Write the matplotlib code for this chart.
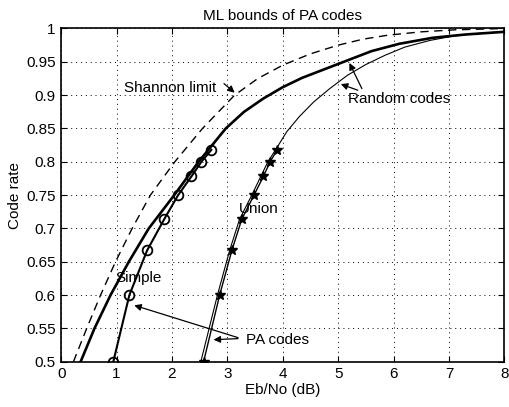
import matplotlib
matplotlib.use("Agg")
import matplotlib.pyplot as plt

# -------------------------------
# Données
# -------------------------------
# limite de Shannon (tirets)
shannon_r = [0.5, 0.55, 0.6, 0.65, 0.7, 0.75, 0.8, 0.85, 0.9, 0.925, 0.945, 0.962, 0.975,
             0.984, 0.99, 0.995, 0.998, 1.0]
shannon_eb = [0.22, 0.46, 0.71, 0.98, 1.28, 1.61, 2.05, 2.55, 3.13, 3.55, 4.0, 4.5, 5.0,
              5.45, 5.9, 6.5, 7.1, 8.0]

# codes aléatoires, borne ML (trait épais)
rand_ml_r = [0.5, 0.55, 0.6, 0.65, 0.7, 0.75, 0.8, 0.85, 0.875, 0.895, 0.912, 0.926, 0.95,
             0.966, 0.977, 0.986, 0.991, 0.995]
rand_ml_eb = [0.35, 0.6, 0.89, 1.22, 1.58, 2.04, 2.48, 2.97, 3.3, 3.65, 4.0, 4.35, 5.1,
              5.6, 6.1, 6.7, 7.3, 8.0]

# codes aléatoires, borne union (trait fin)
rand_un_r = [0.5, 0.55, 0.6, 0.667, 0.714, 0.75, 0.8, 0.818, 0.845, 0.868, 0.89, 0.91,
             0.93, 0.946, 0.96, 0.972, 0.982, 0.989, 0.993, 0.995]
rand_un_eb = [2.52, 2.67, 2.82, 3.04, 3.22, 3.44, 3.73, 3.87, 4.07, 4.3, 4.56, 4.85,
              5.17, 5.5, 5.85, 6.2, 6.65, 7.1, 7.6, 8.0]

# codes PA : taux des points
pa_rates = [0.5, 0.6, 0.667, 0.714, 0.75, 0.778, 0.8, 0.818]
pa_simple = [0.94, 1.23, 1.55, 1.86, 2.11, 2.35, 2.53, 2.71]
pa_union = [2.57, 2.86, 3.08, 3.26, 3.48, 3.65, 3.77, 3.9]

# -------------------------------
# Figure
# -------------------------------
plt.rcParams['font.family'] = ['Liberation Sans', 'DejaVu Sans']
plt.rcParams['font.size'] = 11

fig = plt.figure(figsize=(5.10, 4.07), dpi=100)
ax = fig.add_axes([0.120, 0.111, 0.869, 0.819])

ax.plot(shannon_eb, shannon_r, color="black", lw=1.0, dashes=(6, 4))
ax.plot(rand_ml_eb, rand_ml_r, color="black", lw=1.9)
ax.plot(rand_un_eb, rand_un_r, color="black", lw=0.8)
ax.plot(pa_simple, pa_rates, color="black", lw=1.5, marker="o", ms=7,
        mfc="none", mec="black", mew=1.3)
ax.plot(pa_union, pa_rates, color="black", lw=1.0, marker="*", ms=7,
        mfc="black", mec="black")

ax.set_xlim(0, 8)
ax.set_ylim(0.5, 1)
ax.set_xticks(range(0, 9))
ax.set_yticks([0.5, 0.55, 0.6, 0.65, 0.7, 0.75, 0.8, 0.85, 0.9, 0.95, 1])
ax.set_yticklabels(["0.5", "0.55", "0.6", "0.65", "0.7", "0.75", "0.8",
                    "0.85", "0.9", "0.95", "1"])
ax.tick_params(direction="in", length=4, width=0.8, top=True, right=True, pad=4)
ax.grid(True, color="black", linestyle=(0, (1, 4)), lw=0.7)
for s in ax.spines.values():
    s.set_linewidth(1.2)

ax.set_title("ML bounds of PA codes", fontsize=11, pad=6)
ax.set_xlabel("Eb/No (dB)", labelpad=1)
ax.set_ylabel("Code rate", labelpad=3)

# annotations
arr = dict(arrowstyle="-|>", color="black", lw=0.9, mutation_scale=10)
ax.text(1.96, 0.91, "Shannon limit", ha="center", va="center")
ax.annotate("", xy=(3.17, 0.901), xytext=(2.9, 0.92), arrowprops=arr)

ax.text(6.1, 0.894, "Random codes", ha="center", va="center")
ax.annotate("", xy=(5.18, 0.952), xytext=(5.45, 0.906), arrowprops=arr)
ax.annotate("", xy=(5.0, 0.918), xytext=(5.4, 0.906), arrowprops=arr)

ax.text(3.2, 0.729, "Union", ha="left", va="center")
ax.text(0.97, 0.625, "Simple", ha="left", va="center")

ax.text(3.33, 0.532, "PA codes", ha="left", va="center")
ax.annotate("", xy=(1.27, 0.586), xytext=(3.24, 0.535), arrowprops=arr)
ax.annotate("", xy=(2.7, 0.533), xytext=(3.24, 0.535), arrowprops=arr)

fig.savefig("out.png", dpi=100)
